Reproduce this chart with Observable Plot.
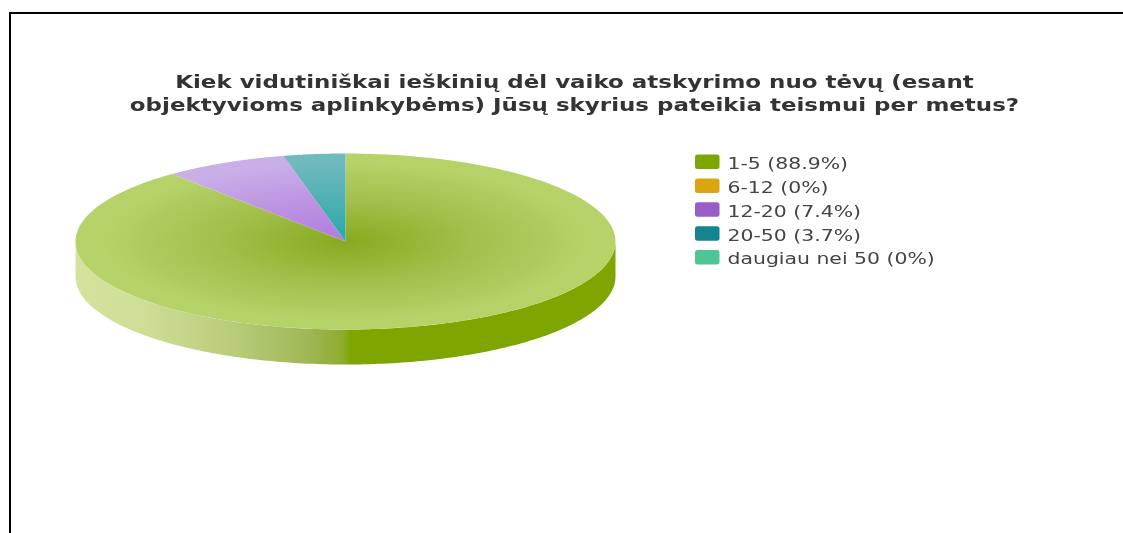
<!DOCTYPE html>
<html lang="lt">
<head>
<meta charset="utf-8">
<style>html,body{margin:0;padding:0;background:#fff}svg{display:block}</style>
<script src="https://cdn.jsdelivr.net/npm/d3@7"></script>
<script src="https://cdn.jsdelivr.net/npm/@observablehq/plot@0.6"></script>
</head>
<body>
<div id="chart"></div>
<script>
const categories = ["1-5", "6-12", "12-20", "20-50", "daugiau nei 50"];
const percents = [88.9, 0, 7.4, 3.7, 0];
const percentLabels = ["88.9%", "0%", "7.4%", "3.7%", "0%"];
const swatchColors = ["#7ea500", "#dba50f", "#9a5cc6", "#12858f", "#4dc597"];
const titleLines = [
  "Kiek vidutiniškai ieškinių dėl vaiko atskyrimo nuo tėvų (esant",
  "objektyvioms aplinkybėms) Jūsų skyrius pateikia teismui per metus?"
];

// Pie geometry: an ellipse seen in perspective
const cx = 345, cy = 241, rx = 270, ry = 88, depth = 35;

const arcs = d3.pie().sort(null).value(d => d)
  .startAngle(0).endAngle(2 * Math.PI)(percents);
const pt = (a, dy = 0) => ({x: cx + rx * Math.sin(a), y: cy - ry * Math.cos(a) + dy});
const steps = (a0, a1) => d3.range(0, 181).map(i => a0 + (a1 - a0) * i / 180);

const slices = arcs.map((a, i) => ({...a, i})).filter(a => a.value > 0);
const topPoints = slices.flatMap(s => [
  {x: cx, y: cy, s: s.i},
  ...steps(s.startAngle, s.endAngle).map(a => ({...pt(a), s: s.i})),
  {x: cx, y: cy, s: s.i}
]);
// Visible rim: the front half of the ellipse, from right to left
const rim = [
  ...steps(Math.PI / 2, 3 * Math.PI / 2).map(a => pt(a)),
  ...steps(3 * Math.PI / 2, Math.PI / 2).map(a => pt(a, depth))
];

const legendTop = 154.5, legendStep = 23.9, legendX = 695;
const legendRows = categories.map((c, i) => ({
  label: `${c} (${percentLabels[i]})`,
  color: swatchColors[i],
  y1: legendTop + i * legendStep,
  y2: legendTop + i * legendStep + 14.5,
  ym: legendTop + i * legendStep + 9
}));

const topFills = {0: "url(#g0)", 2: "url(#g2)", 3: "url(#g3)"};

function defs() {
  const ns = "http://www.w3.org/2000/svg";
  const d = document.createElementNS(ns, "defs");
  const radial = (id, inner, mid, outer) => `<radialGradient id="${id}" gradientUnits="userSpaceOnUse" cx="0" cy="0" r="1"
     gradientTransform="translate(${cx} ${cy}) scale(${rx} ${ry})">
     <stop offset="0" stop-color="${inner}"/><stop offset="0.45" stop-color="${mid}"/>
     <stop offset="0.9" stop-color="${outer}"/></radialGradient>`;
  d.innerHTML = radial("g0", "#88aa1e", "#a1bf4a", "#b5d368") + radial("g2", "#b07ce0", "#bc92e2", "#caaee8") + radial("g3", "#2aa8a8", "#4cb0b2", "#70b9bd") +
    `<linearGradient id="side" gradientUnits="userSpaceOnUse" x1="${cx - rx}" x2="${cx + rx}" y1="0" y2="0">
      <stop offset="0" stop-color="#d3e39f"/><stop offset="0.12" stop-color="#cfdf98"/>
      <stop offset="0.3" stop-color="#b7cb78"/><stop offset="0.44" stop-color="#9db553"/>
      <stop offset="0.495" stop-color="#8fac2c"/><stop offset="0.51" stop-color="#7ea500"/>
      <stop offset="1" stop-color="#7ea500"/></linearGradient>`;
  return d;
}

const soft = (stretch, blur = 0.6) => (index, scales, values, dimensions, context, next) => {
  const g = next(index, scales, values, dimensions, context);
  if (stretch) g.setAttribute("data-stretch", stretch);
  g.style.filter = `blur(${blur}px)`;
  return g;
};

const chart = Plot.plot({
  width: 1123, height: 533,
  margin: 0,
  style: {background: "#fff", overflow: "hidden"},
  x: {domain: [0, 1123], range: [0, 1123], axis: null},
  y: {domain: [0, 533], range: [0, 533], axis: null},
  marks: [
    defs,
    Plot.ruleY([12.5], {x1: 9, x2: 1123, stroke: "#000", strokeWidth: 2}),
    Plot.ruleX([9.5], {y1: 12, y2: 533, stroke: "#000", strokeWidth: 2}),
    Plot.line(rim, {x: "x", y: "y", fill: "url(#side)", stroke: "none", curve: "linear", render: soft()}),
    Plot.line(topPoints, {x: "x", y: "y", z: "s", fill: d => topFills[d.s], stroke: "none", curve: "linear", render: soft()}),
    Plot.text(titleLines, {
      x: 574, y: (d, i) => 82 + i * 23, text: d => d, textAnchor: "middle",
      fontFamily: "DejaVu Sans", fontWeight: "bold", fontSize: 17, fill: "#333",
      render: soft(1.35, 0.45)
    }),
    Plot.rect(legendRows, {x1: legendX, x2: legendX + 24.5, y1: "y1", y2: "y2", fill: "color", rx: 2.5, render: soft()}),
    Plot.text(legendRows, {
      x: 727, y: "ym", text: "label", textAnchor: "start",
      fontFamily: "DejaVu Sans", fontSize: 15, fill: "#444",
      render: soft(1.36, 0.45)
    })
  ]
});
document.getElementById("chart").appendChild(chart);
// The reference's lettering is horizontally stretched
chart.querySelectorAll("[data-stretch]").forEach(g => {
  const k = +g.getAttribute("data-stretch");
  g.querySelectorAll("text").forEach(t => {
    t.setAttribute("textLength", t.getComputedTextLength() * k);
    t.setAttribute("lengthAdjust", "spacingAndGlyphs");
  });
});
</script>
</body>
</html>
